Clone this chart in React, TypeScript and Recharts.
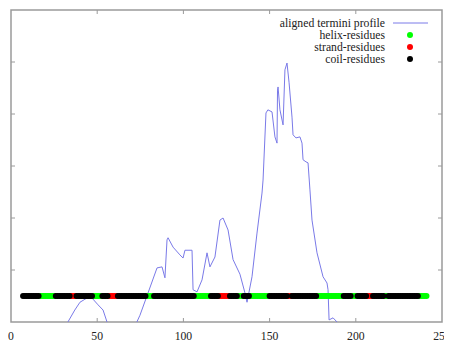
import React from 'react';
import { ComposedChart, Line, Scatter, XAxis, YAxis, Legend, ReferenceLine, ReferenceArea } from 'recharts';

// aligned termini profile: [residue position, profile value]
const profile: [number, number][] = [
  [1, -1.5], [15, -1.2], [28, -0.5], [33, 0], [37, 0.23], [40, 0.38], [44, 0.46], [47, 0.46],
  [50.5, 0.33], [53.4, 0.23], [55.7, 0], [58, -0.4], [65, -0.7], [70, -0.4], [73, 0],
  [74.8, 0.13], [79.5, 0.56], [84.7, 1.04], [87.6, 1.06], [89.3, 0.85], [90.5, 1.58],
  [91.1, 1.62], [94, 1.44], [98, 1.29], [99.8, 1.23], [100.9, 1.38], [105, 1.38],
  [105.6, 0.62], [107.9, 0.58], [110.8, 0.81], [113.7, 1.33], [115.4, 1.06], [118.3, 1.25],
  [121.2, 1.96], [123, 2.0], [125.9, 1.77], [128.8, 1.2], [132.8, 0.92], [135.7, 0.56],
  [136.9, 0.38], [139.8, 0.87], [142.7, 1.71], [145.6, 2.48], [146.2, 2.73], [147.9, 4.02],
  [149, 4.08], [151.4, 4.04], [153.1, 3.56], [154.3, 3.44], [154.6, 4.46], [154.9, 4.52],
  [156, 4.08], [157.8, 3.79], [158.9, 4.85], [160.1, 4.98], [161.3, 4.6], [163, 3.94],
  [163.6, 3.6], [165.3, 3.54], [167.6, 3.56], [168.8, 3.44], [169.4, 3.12], [171.1, 3.08],
  [172.3, 3.06], [173.4, 2.54], [174.6, 1.96], [177.5, 1.33], [181, 0.87], [183.3, 0.75],
  [183.9, 0.62], [184.5, 0.04], [186.8, 0.08], [189.7, -0.02], [195, -0.5], [241, -1.2],
];

// secondary structure of residues
const residueFirst = 7;
const residueLast = 241;
const residueLevel = 0.5;
const helixSegments: [number, number][] = [
  [17, 25], [48, 52], [79, 82], [107, 115], [132, 134], [139, 149], [178, 192], [198, 200], [217, 218], [237, 241],
];
const strandSegments: [number, number][] = [
  [35, 37], [57, 61], [121, 126], [161, 162], [207, 209],
];

const xDomain: [number, number] = [0, 250];
const yDomain: [number, number] = [0, 6];
const xTicks = [0, 50, 100, 150, 200, 250];
const yTicks = [0, 1, 2, 3, 4, 5, 6];

const legendLabels = ['aligned termini profile', 'helix-residues', 'strand-residues', 'coil-residues'];

const inSeg = (r: number, segs: [number, number][]) => segs.some(([a, b]) => r >= a && r <= b);

const profileData = profile.map(([x, y]) => ({ x, y }));
const helixData: { x: number; y: number }[] = [];
const strandData: { x: number; y: number }[] = [];
const coilData: { x: number; y: number }[] = [];
for (let r = residueFirst; r <= residueLast; r++) {
  const pt = { x: r, y: residueLevel };
  if (inSeg(r, helixSegments)) helixData.push(pt);
  else if (inSeg(r, strandSegments)) strandData.push(pt);
  else coilData.push(pt);
}

const LINE_COLOR = '#7a7ae8';
const HELIX = '#00ff00';
const STRAND = '#ff0000';
const COIL = '#000000';
const AXIS = '#9a9a9a';
const FONT = 'Liberation Serif';
const TICK_LEN = 4;

const dot = (color: string) => (props: any) => (
  <circle cx={props.cx} cy={props.cy} r={3} fill={color} />
);

// inward tick stubs at both ends of a reference line
const TickStubs = (props: any) => {
  const { x1, y1, x2, y2 } = props;
  const dx = Math.sign(x2 - x1) * TICK_LEN;
  const dy = Math.sign(y2 - y1) * TICK_LEN;
  return (
    <g>
      <line x1={x1} y1={y1} x2={x1 + dx} y2={y1 + dy} stroke={AXIS} strokeWidth={1} />
      <line x1={x2} y1={y2} x2={x2 - dx} y2={y2 - dy} stroke={AXIS} strokeWidth={1} />
    </g>
  );
};

const XTickLabel = (props: any) => (
  <text
    x={props.x}
    y={props.y}
    dy="0.71em"
    textAnchor="middle"
    fill="#222"
    style={{ fontSize: 11.7, fontFamily: FONT }}
  >
    {String(props.payload.value)}
  </text>
);

const LegendBox = () => {
  const rows = [23, 35, 47, 59].map((y) => y - 8);
  const textX = 377;
  const colors = [LINE_COLOR, HELIX, STRAND, COIL];
  return (
    <svg width={444} height={70} style={{ display: 'block' }}>
      {legendLabels.map((label, i) => (
        <g key={label}>
          <text x={textX} y={rows[i]} dy="0.35em" textAnchor="end" style={{ fontSize: 11.7, fontFamily: FONT }} fill="#222">
            {label}
          </text>
          {i === 0 ? (
            <line x1={385} x2={420} y1={rows[i]} y2={rows[i]} stroke={LINE_COLOR} strokeWidth={1} />
          ) : (
            <circle cx={402} cy={rows[i]} r={3} fill={colors[i]} />
          )}
        </g>
      ))}
    </svg>
  );
};

export default function App() {
  return (
    <ComposedChart width={444} height={337} margin={{ top: 2, right: 10, left: 3, bottom: 0 }} style={{ overflow: 'visible', fontFamily: FONT }}>
      <XAxis
        dataKey="x"
        type="number"
        domain={xDomain}
        ticks={xTicks}
        interval={0}
        height={23}
        axisLine={false}
        tickLine={false}
        tickSize={0}
        tickMargin={10}
        tick={XTickLabel}
        allowDataOverflow
      />
      <YAxis type="number" domain={yDomain} ticks={yTicks} hide allowDataOverflow />
      <Legend
        layout="vertical"
        verticalAlign="middle"
        align="center"
        wrapperStyle={{ position: 'absolute', top: 0, left: 0, width: 444, height: 70 }}
        content={() => <LegendBox />}
      />
      {xTicks.slice(1, -1).map((t) => (
        <ReferenceLine
          key={`xt${t}`}
          segment={[{ x: t, y: yDomain[0] }, { x: t, y: yDomain[1] }]}
          ifOverflow="visible"
          shape={TickStubs}
        />
      ))}
      {yTicks.slice(1, -1).map((t) => (
        <ReferenceLine key={`yt${t}`} y={t} ifOverflow="visible" shape={TickStubs} />
      ))}
      <Line
        data={profileData}
        dataKey="y"
        type="linear"
        stroke={LINE_COLOR}
        strokeWidth={1}
        dot={false}
        isAnimationActive={false}
      />
      <Scatter data={helixData} dataKey="y" shape={dot(HELIX)} isAnimationActive={false} />
      <Scatter data={strandData} dataKey="y" shape={dot(STRAND)} isAnimationActive={false} />
      <Scatter data={coilData} dataKey="y" shape={dot(COIL)} isAnimationActive={false} />
      <ReferenceArea
        x1={xDomain[0]}
        x2={xDomain[1]}
        y1={yDomain[0]}
        y2={yDomain[1]}
        fill="none"
        stroke={AXIS}
        strokeWidth={1.5}
        ifOverflow="visible"
      />
    </ComposedChart>
  );
}
